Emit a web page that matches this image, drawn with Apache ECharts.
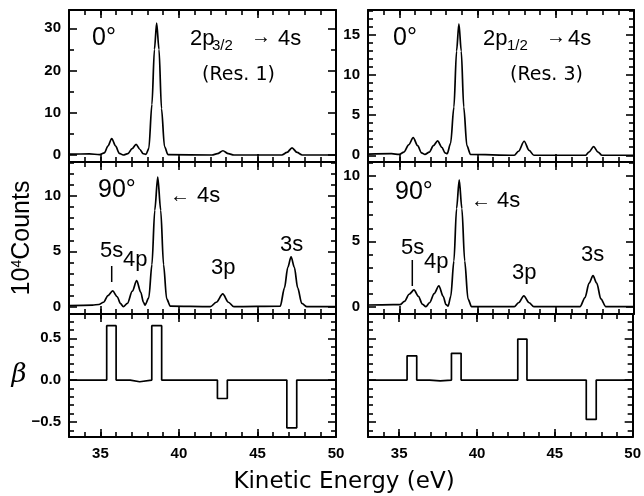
<!DOCTYPE html>
<html lang="en">
<head>
<meta charset="UTF-8">
<script src="https://cdn.jsdelivr.net/npm/echarts@6/dist/echarts.min.js"></script>
<style>
  html, body { margin: 0; padding: 0; background: #fff; }
</style>
</head>
<body>
<div id="main" style="width:644px;height:496px"></div>
<script>
// kinetic energy axis (eV)
const xMajor = [35, 40, 45, 50];

// 0 deg, 2p3/2 -> 4s (Res. 1), [eV, 10^4 counts]
const res1Deg0 = [[33.0,0.2],[34.3,0.25],[34.95,0.1],[35.25,0.5],[35.48,2.1],[35.72,3.9],[35.97,2.1],[36.2,0.4],[36.45,0.0],[36.75,0.3],[37.02,1.5],[37.27,2.5],[37.52,1.3],[37.72,0.3],[37.9,0.15],[38.08,1.5],[38.28,12],[38.44,25],[38.58,31.2],[38.73,25],[38.89,11],[39.08,2],[39.3,0.1],[42.1,0.0],[42.45,0.3],[42.8,1.0],[43.15,0.3],[43.5,0.0],[46.55,0.0],[46.88,0.6],[47.2,1.7],[47.52,0.6],[47.85,0.0],[50,0]];
// 0 deg, 2p1/2 -> 4s (Res. 3)
const res3Deg0 = [[33,0.15],[34.5,0.2],[35.0,0.1],[35.3,0.4],[35.6,1.3],[35.89,2.2],[36.17,1.2],[36.42,0.3],[36.64,0.1],[36.92,0.4],[37.18,1.2],[37.45,1.8],[37.72,1.0],[37.92,0.3],[38.06,0.2],[38.28,1.5],[38.49,6],[38.66,13],[38.81,16.4],[38.96,13],[39.12,6],[39.32,1.2],[39.55,0.1],[42.35,0.0],[42.62,0.5],[42.98,1.75],[43.3,0.6],[43.6,0.0],[46.9,0.0],[47.12,0.4],[47.42,1.08],[47.7,0.4],[47.95,0.0],[50,0]];
// 90 deg, Res. 1
const res1Deg90 = [[33,0.1],[34.5,0.15],[34.9,0.2],[35.2,0.4],[35.48,1.0],[35.78,1.42],[36.07,0.9],[36.27,0.3],[36.46,0.0],[36.72,0.3],[37.03,1.4],[37.31,2.35],[37.57,1.3],[37.74,0.4],[37.84,0.15],[38.08,0.8],[38.28,3.8],[38.46,8.7],[38.65,11.7],[38.84,8.7],[39.02,3.8],[39.22,0.7],[39.45,0.05],[42.0,0.0],[42.38,0.4],[42.79,1.15],[43.15,0.4],[43.5,0.0],[46.45,0.05],[46.72,1.7],[46.93,3.55],[47.14,4.5],[47.35,3.55],[47.56,1.7],[47.82,0.3],[48.15,0],[50,0]];
// 90 deg, Res. 3
const res3Deg90 = [[33,0.13],[34.6,0.15],[35.04,0.15],[35.33,0.4],[35.63,0.95],[35.94,1.28],[36.22,0.8],[36.47,0.2],[36.7,0.0],[36.93,0.3],[37.23,1.0],[37.53,1.6],[37.8,0.8],[37.99,0.15],[38.12,0.05],[38.29,0.8],[38.49,3.5],[38.66,7.5],[38.83,9.7],[39.0,7.5],[39.18,3.5],[39.39,0.6],[39.62,0.0],[42.35,0.0],[42.62,0.3],[42.96,0.82],[43.3,0.3],[43.6,0.0],[46.55,0.0],[46.87,0.7],[47.13,1.8],[47.38,2.37],[47.62,1.8],[47.88,0.6],[48.2,0.0],[50,0]];
// beta, step values held from each energy to the next
const betaRes1 = [[33,0],[35.4,0.65],[36.0,0],[36.9,-0.02],[37.5,0],[38.27,0.65],[38.9,0],[42.45,-0.22],[43.08,0],[46.87,-0.57],[47.5,0],[50,0]];
const betaRes3 = [[33,0],[35.51,0.29],[36.13,0],[36.96,-0.01],[37.64,0],[38.36,0.32],[38.98,0],[42.62,0.49],[43.21,0],[47.02,-0.47],[47.66,0],[50,0]];

const BLACK = '#000';
const tickFont = { color: BLACK, fontSize: 15, fontWeight: 'bold', fontFamily: 'Liberation Sans' };

const panels = [
  { grid: {left: 69, top: 10, width: 267, height: 152}, y: [-1.66, 34.33], yMajor: [0,10,20,30], yMinor: [5,15,25], yLab: true, xLab: false, data: res1Deg0 },
  { grid: {left: 368, top: 10, width: 266, height: 152}, y: [-0.84, 18.12], yMajor: [0,5,10,15], yMinor: [1,2,3,4,6,7,8,9,11,12,13,14,16,17,18], yLab: true, xLab: false, data: res3Deg0 },
  { grid: {left: 69, top: 162, width: 267, height: 152}, y: [-0.66, 13.07], yMajor: [0,5,10], yMinor: [1,2,3,4,6,7,8,9,11,12,13], yLab: true, xLab: false, data: res1Deg90, name: '10{s|4}Counts' },
  { grid: {left: 368, top: 162, width: 266, height: 152}, y: [-0.56, 11.07], yMajor: [0,5,10], yMinor: [1,2,3,4,6,7,8,9,11], yLab: true, xLab: false, data: res3Deg90 },
  { grid: {left: 69, top: 314, width: 267, height: 123}, y: [-0.68, 0.79], yMajor: [-0.5,0,0.5], yMinor: [-0.6,-0.4,-0.3,-0.2,-0.1,0.1,0.2,0.3,0.4,0.6,0.7], yLab: true, xLab: true, data: betaRes1, step: true, name: 'β' },
  { grid: {left: 368, top: 314, width: 266, height: 123}, y: [-0.68, 0.79], yMajor: [-0.5,0,0.5], yMinor: [-0.6,-0.4,-0.3,-0.2,-0.1,0.1,0.2,0.3,0.4,0.6,0.7], yLab: false, xLab: true, data: betaRes3, step: true }
];

function axis(gi, pos, min, max, vals, len, showLine, label) {
  const a = {
    type: 'value', gridIndex: gi, position: pos, min: min, max: max,
    axisLine: { show: showLine, onZero: false, lineStyle: { color: BLACK, width: 2 } },
    axisTick: { show: true, inside: true, length: len, lineStyle: { color: BLACK, width: 1.6 } },
    axisLabel: label ? Object.assign({ show: true, customValues: vals }, label) : { show: false },
    splitLine: { show: false }
  };
  if (vals) a.axisTick.customValues = vals;
  else a.interval = 1;   // 1 eV minor ticks, min 33 is a multiple of 1
  return a;
}

const xAxes = [], yAxes = [], series = [];
panels.forEach(function (p, i) {
  const xl = p.xLab ? Object.assign({ margin: 9 }, tickFont) : null;
  xAxes.push(axis(i, 'bottom', 33, 50, xMajor, 8, true, xl));
  xAxes.push(axis(i, 'bottom', 33, 50, null, 5, false, null));
  xAxes.push(axis(i, 'top', 33, 50, xMajor, 8, true, null));
  xAxes.push(axis(i, 'top', 33, 50, null, 5, false, null));

  let yl = null;
  if (p.yLab) {
    yl = Object.assign({ margin: 8 }, tickFont);
    if (p.step) yl.formatter = function (v) { return (v < 0 ? '\u2212' : '') + Math.abs(v).toFixed(1); };
  }
  const yMain = axis(i, 'left', p.y[0], p.y[1], p.yMajor, 8, true, yl);
  if (p.name) {
    yMain.name = p.name;
    yMain.nameLocation = 'middle';
    if (p.step) {
      yMain.nameRotate = 0;
      yMain.nameGap = 40;
      yMain.nameTextStyle = { color: BLACK, fontSize: 26, fontStyle: 'italic', fontFamily: 'DejaVu Serif' };
    } else {
      yMain.nameRotate = 90;
      yMain.nameGap = 34;
      yMain.nameTextStyle = { color: BLACK, fontSize: 25, fontFamily: 'Liberation Sans',
        rich: { s: { fontSize: 14, verticalAlign: 'top', fontFamily: 'Liberation Sans', color: BLACK } } };
    }
  }
  yAxes.push(yMain);
  yAxes.push(axis(i, 'left', p.y[0], p.y[1], p.yMinor, 5, false, null));
  yAxes.push(axis(i, 'right', p.y[0], p.y[1], p.yMajor, 8, true, null));
  yAxes.push(axis(i, 'right', p.y[0], p.y[1], p.yMinor, 5, false, null));

  const s = {
    type: 'line', xAxisIndex: i * 4, yAxisIndex: i * 4, data: p.data,
    symbol: 'none', lineStyle: { color: BLACK, width: 1.7 }, silent: true
  };
  if (p.step) s.step = 'end'; else { s.smooth = 0.3; s.smoothMonotone = 'x'; }
  series.push(s);
});

const F = 'Liberation Sans';
function txt(x, y, text, size, extra) {
  return { type: 'text', x: x, y: y, silent: true,
    style: Object.assign({ text: text, fill: BLACK, font: size + 'px "' + F + '"', align: 'left', verticalAlign: 'middle' }, extra || {}) };
}
function tickMark(x, y1, y2) {
  return { type: 'line', silent: true, shape: { x1: x, y1: y1, x2: x, y2: y2 }, style: { stroke: BLACK, lineWidth: 1.5 } };
}
const resFont = { font: '19px "DejaVu Sans"' };

const graphic = [
  // top left
  txt(92, 38, '0°', 25),
  txt(190, 39, '2p', 22), txt(212, 46, '3/2', 15), txt(251, 37, '→', 20), txt(278, 39, '4s', 22),
  txt(202, 75, '(Res. 1)', 19, resFont),
  // top right
  txt(393, 38, '0°', 25),
  txt(483, 39, '2p', 22), txt(507, 46, '1/2', 15), txt(546, 37, '→', 20), txt(568, 39, '4s', 22),
  txt(510, 75, '(Res. 3)', 19, resFont),
  // middle left
  txt(98, 190, '90°', 25),
  txt(170, 196, '←', 20), txt(197, 196, '4s', 22),
  txt(100, 251, '5s', 22), txt(123, 260, '4p', 22), txt(211, 268, '3p', 22), txt(280, 245, '3s', 22),
  tickMark(111.7, 266, 282),
  // middle right
  txt(395, 192, '90°', 25),
  txt(471, 201, '←', 20), txt(497, 201, '4s', 22),
  txt(401, 248, '5s', 22), txt(424, 262, '4p', 22), txt(512, 273, '3p', 22), txt(581, 255, '3s', 22),
  tickMark(412.3, 260, 286),
  // x title
  { type: 'text', x: 344, y: 482, silent: true,
    style: { text: 'Kinetic Energy (eV)', fill: BLACK, font: '23px "DejaVu Sans"', align: 'center', verticalAlign: 'middle' } }
];

const chart = echarts.init(document.getElementById('main'));
chart.setOption({
  animation: false,
  backgroundColor: '#fff',
  grid: panels.map(function (p) { return p.grid; }),
  xAxis: xAxes,
  yAxis: yAxes,
  series: series,
  graphic: graphic
});
</script>
</body>
</html>
